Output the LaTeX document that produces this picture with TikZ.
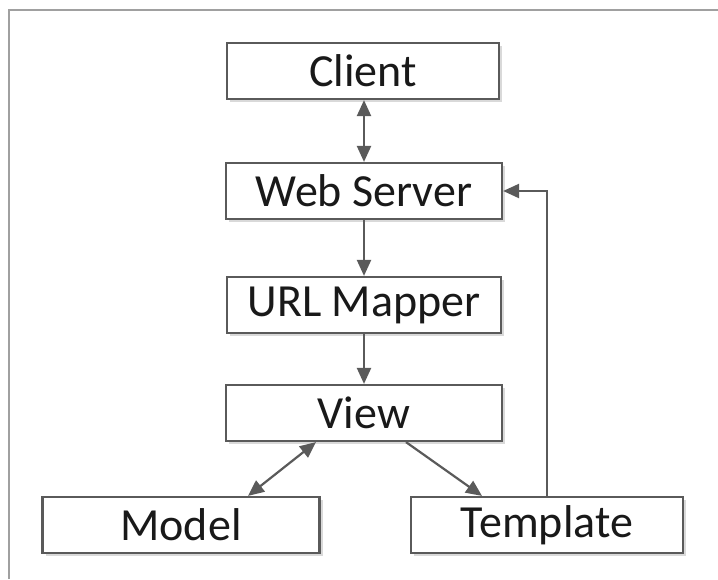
\documentclass[tikz,border=0pt]{standalone}
\usepackage{fontspec}
\setmainfont{Carlito}
\usetikzlibrary{arrows.meta, calc, shadows}
\definecolor{edge}{HTML}{5A5A5A}
\definecolor{frame}{HTML}{A0A0A0}

\begin{document}
\begin{tikzpicture}[x=1pt, y=-1pt,
    box/.style={draw=edge, line width=2.2pt, fill=white, minimum width=276pt,
      minimum height=56pt, inner sep=0pt, text=black!90,
      font=\fontsize{46}{50}\selectfont,
      drop shadow={shadow xshift=3pt, shadow yshift=-3pt, fill=black!15, opacity=1}},
    link/.style={draw=edge, line width=2.2pt, -{Triangle[length=16pt, width=14pt]}},
    both/.style={link, {Triangle[length=16pt, width=14pt]}-{Triangle[length=16pt, width=14pt]}}]

  \useasboundingbox (0, 0) rectangle (718, 579);

  % Frame
  \draw[line width=2pt, color=frame] (9, 579) -- (9, 10) -- (718, 10);

  % Boxes
  \node[box, minimum width=272pt] (client) at (363, 71) {Client};
  \node[box] (webserver) at (364, 191) {Web Server};
  \node[box, minimum width=274pt] (mapper) at (364, 305) {URL Mapper};
  \node[box] (view) at (364, 413) {View};
  \node[box, minimum width=277pt] (model) at (181, 525) {Model};
  \node[box, minimum width=272pt] (template) at (547, 525) {Template};

  % Connectors
  \draw[both] (client.south -| webserver.north) -- (webserver.north);
  \draw[link] (webserver) -- (mapper);
  \draw[link] (mapper) -- (view);
  \draw[both] ($(view.south)+(-48, 0)$) -- ($(model.north)+(67, 0)$);
  \draw[link] ($(view.south)+(42, 0)$) -- ($(template.north)+(-65, 0)$);
  \draw[link] (template.north) |- (webserver.east);

\end{tikzpicture}
\end{document}
